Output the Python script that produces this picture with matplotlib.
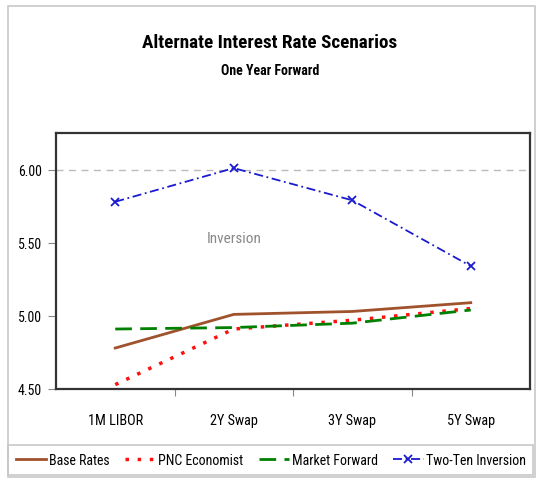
import matplotlib
matplotlib.use("Agg")
import matplotlib.pyplot as plt
from matplotlib.patches import Rectangle

categories = ["1M LIBOR", "2Y Swap", "3Y Swap", "5Y Swap"]
base_rates = [4.78, 5.01, 5.03, 5.09]
pnc_economist = [4.53, 4.91, 4.97, 5.05]
market_forward = [4.91, 4.92, 4.95, 5.04]
two_ten = [5.78, 6.01, 5.79, 5.34]
yticks = [4.50, 5.00, 5.50, 6.00]

plt.rcParams["font.family"] = ["Roboto Condensed", "Liberation Sans", "DejaVu Sans"]

W, H = 540, 485
fig = plt.figure(figsize=(W / 100, H / 100), dpi=100)
fig.patch.set_facecolor("white")

# outer frame
fig.add_artist(Rectangle((8 / W, 1 - 478 / H), (535 - 8) / W, (478 - 7) / H,
                         transform=fig.transFigure, fill=False, ec="#c8c8c8", lw=1.2))
# legend box
fig.add_artist(Rectangle((8 / W, 1 - 476 / H), (533 - 8) / W, (476 - 446) / H,
                         transform=fig.transFigure, fill=False, ec="#c8c8c8", lw=1.2))

ax = fig.add_axes([56 / W, 1 - 390 / H, (530 - 56) / W, (390 - 134) / H])
x = range(len(categories))
ax.plot(x, base_rates, color="#A0522D", lw=2, label="Base Rates")
ax.plot(x, pnc_economist, color="#FF1010", lw=2.5, ls=(0, (1, 2.5)), label="PNC Economist")
ax.plot(x, market_forward, color="#008000", lw=2, ls=(0, (6, 3)), label="Market Forward")
ax.plot(x, two_ten, color="#1A1AD0", lw=1.3, ls=(0, (5, 2, 1, 2)), marker="x", ms=6,
        mew=1.3, label="Two-Ten Inversion")

ax.set_xlim(-0.5, len(categories) - 0.5)
ax.set_ylim(4.5, 6.25)
ax.set_yticks(yticks)
ax.set_yticklabels([f"{v:.2f}" for v in yticks], fontsize=10)
ax.set_xticks([i + 0.5 for i in range(len(categories) - 1)])
ax.set_xticklabels([])
ax.set_xticks(list(x), minor=True)
ax.set_xticklabels(categories, minor=True, fontsize=10.3)
ax.tick_params(axis="x", which="minor", length=0, pad=17)
ax.tick_params(axis="x", which="major", length=5, color="#888888", direction="out")
ax.tick_params(axis="y", length=6, color="#888888", direction="out", pad=4)
ax.axhline(6.0, color="#bbbbbb", lw=1, ls=(0, (5, 4)), zorder=0)
for s in ax.spines.values():
    s.set_linewidth(1.6)
    s.set_color("#333333")

ax.text(1, 5.53, "Inversion", ha="center", va="center", color="#888888", fontsize=11)

fig.text(0.5, 1 - 43 / H, "Alternate Interest Rate Scenarios", ha="center", va="center",
         fontsize=13.8, fontweight="bold")
fig.text(0.5, 1 - 71 / H, "One Year Forward", ha="center", va="center",
         fontsize=10, fontweight="bold")

handles, labels = ax.get_legend_handles_labels()
leg = fig.legend(handles, labels, loc="center", ncol=4,
                 bbox_to_anchor=(271 / W, 1 - 461 / H), fontsize=10, frameon=False,
                 handlelength=2.2, handletextpad=0.2, columnspacing=1.1, borderpad=0.3)

fig.savefig("out.png", dpi=100, facecolor="white")
